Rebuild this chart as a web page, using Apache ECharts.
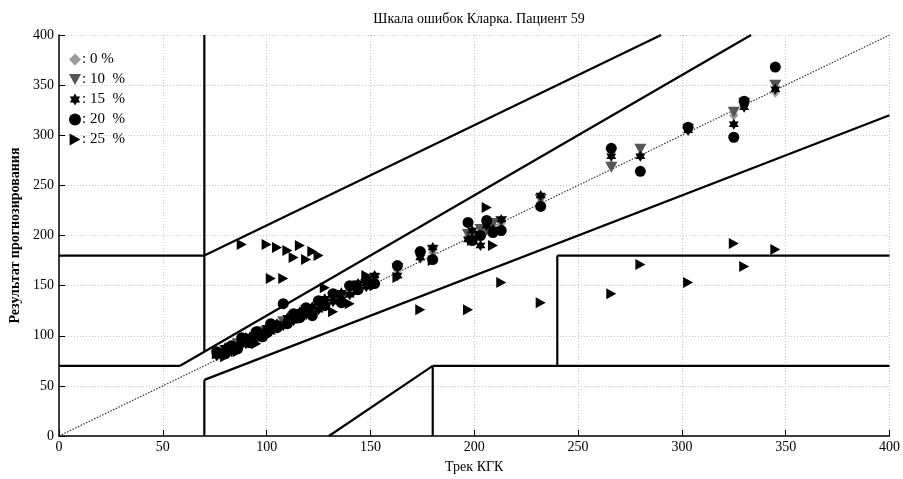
<!DOCTYPE html>
<html>
<head>
<meta charset="utf-8">
<script src="https://cdn.jsdelivr.net/npm/echarts@6/dist/echarts.min.js"></script>
<style>html,body{margin:0;padding:0;background:#fff}#c{width:903px;height:479px}</style>
</head>
<body>
<div id="c"></div>
<script>
// ---- data ----
const titleText = 'Шкала ошибок Кларка. Пациент 59';
const xName = 'Трек КГК';
const yName = 'Результат прогнозирования';
const seriesNames = ['0 %', '10  %', '15  %', '20  %', '25  %'];

const trace = [76, 80, 83, 86, 88, 90, 92, 95, 98, 100, 102, 105, 108, 110, 113, 116, 119, 122, 125, 128, 132, 136, 140, 144, 148, 152, 163, 174, 180, 197, 199, 203, 206, 209, 213, 232, 266, 280, 303, 325, 330, 345];
const pred0  = [80, 84, 87, 90, 92, 94, 96, 99, 102, 104, 106, 109, 112, 114, 117, 120, 123, 126, 129, 132, 136, 140, 144, 148, 152, 155, 165, 177, 183, 199, 201, 204, 207, 210, 212, 233, 270, 280, 305, 320, 330, 343];
const pred10 = [82, 85, 86, 92, 90, 96, 95, 100, 104, 103, 108, 110, 114, 113, 119, 121, 125, 124, 131, 133, 138, 139, 146, 150, 151, 157, 167, 179, 185, 201, 198, 206, 205, 212, 214, 236, 268, 286, 306, 323, 332, 350];
const pred15 = [80, 88, 84, 90, 94, 92, 99, 97, 101, 108, 104, 112, 110, 118, 115, 124, 121, 129, 126, 137, 134, 143, 141, 152, 149, 160, 160, 178, 188, 196, 205, 190, 210, 206, 216, 240, 279, 279, 305, 311, 328, 346];
const pred20 = [84, 82, 90, 87, 98, 95, 93, 104, 99, 103, 112, 108, 132, 112, 122, 118, 128, 120, 135, 130, 142, 133, 150, 146, 156, 152, 170, 184, 176, 213, 195, 200, 215, 203, 205, 229, 287, 264, 308, 298, 334, 368];
const pred25 = [82, 79, 88, 84, 191, 93, 98, 92, 104, 191, 157, 188, 157, 185, 178, 190, 176, 184, 180, 148, 124, 138, 132, 145, 160, 150, 158, 126, 175, 126, 195, 200, 228, 190, 153, 133, 142, 171, 153, 192, 169, 186];

const xTicks = [0, 50, 100, 150, 200, 250, 300, 350, 400];
const yTicks = [0, 50, 100, 150, 200, 250, 300, 350, 400];

// Clarke error grid zone boundaries (data units)
const diagonal = [[0, 0], [400, 400]];
const zoneSegments = [
  [[0, 70], [175 / 3, 70]],
  [[175 / 3, 70], [400 / 1.2, 400]],
  [[70, 84], [70, 400]],
  [[0, 180], [70, 180]],
  [[70, 180], [290, 400]],
  [[70, 0], [70, 56]],
  [[70, 56], [400, 320]],
  [[180, 0], [180, 70]],
  [[180, 70], [400, 70]],
  [[240, 70], [240, 180]],
  [[240, 180], [400, 180]],
  [[130, 0], [180, 70]]
];

// ---- chart ----
const serif = '"Liberation Serif", "DejaVu Serif", serif';
const preds = [pred0, pred10, pred15, pred20, pred25];
const symbols = [
  'diamond',
  'path://M0,0 L10,0 L5,9 Z',
  'path://M5,0 L9.33,7.5 L0.67,7.5 Z M5,10 L0.67,2.5 L9.33,2.5 Z',
  'circle',
  'path://M0,0 L9,5 L0,10 Z'
];
const colors = ['#9a9a9a', '#555555', '#000000', '#000000', '#000000'];
const sizes = [[9, 11], [12, 11], [10, 11], [11, 11], [10, 11]];

const series = [];
series.push({
  type: 'line', data: diagonal, symbol: 'none', silent: true,
  lineStyle: { color: '#333', width: 1.2, type: [1.5, 1.5] }, z: 1
});
zoneSegments.forEach(seg => series.push({
  type: 'line', data: seg, symbol: 'none', silent: true,
  lineStyle: { color: '#000', width: 2.2 }, z: 2
}));
preds.forEach((p, i) => series.push({
  name: seriesNames[i], type: 'scatter',
  data: trace.map((t, k) => [t, p[k]]),
  symbol: symbols[i], symbolSize: sizes[i],
  itemStyle: { color: colors[i], opacity: 1 }, z: 3 + i
}));

const axisCommon = {
  type: 'value', min: 0, max: 400, interval: 50,
  axisLine: { show: true, lineStyle: { color: '#000', width: 1.5 } },
  axisTick: { show: true, inside: true, length: 6, lineStyle: { color: '#000', width: 1 } },
  splitLine: { show: true, lineStyle: { color: '#c8c8c8', width: 1, type: [1, 2] } },
  axisLabel: { color: '#000', fontFamily: serif, fontSize: 14 },
  nameTextStyle: { color: '#000', fontFamily: serif, fontSize: 14 }
};

const chart = echarts.init(document.getElementById('c'), null, { renderer: 'canvas' });
chart.setOption({
  animation: false,
  backgroundColor: '#fff',
  title: {
    text: titleText, left: 474, top: 7, textAlign: 'center',
    textStyle: { fontFamily: serif, fontSize: 14, fontWeight: 'normal', color: '#000' }
  },
  legend: {
    orient: 'vertical', left: 64, top: 47, itemGap: 5, itemWidth: 12, itemHeight: 12,
    data: seriesNames.map((n, i) => ({ name: n, icon: symbols[i] })),
    formatter: n => ': ' + n,
    textStyle: { fontFamily: serif, fontSize: 15, color: '#000', padding: [0, 0, 0, -4] },
    selectedMode: false
  },
  grid: { left: 58, right: 13, top: 35, bottom: 38, containLabel: false },
  xAxis: Object.assign({}, axisCommon, {
    name: xName, nameLocation: 'middle', nameGap: 24,
    axisLabel: Object.assign({}, axisCommon.axisLabel, {
      margin: 4, customValues: xTicks
    })
  }),
  yAxis: Object.assign({}, axisCommon, {
    name: yName, nameLocation: 'middle', nameGap: 37,
    nameTextStyle: { color: '#000', fontFamily: serif, fontSize: 14, fontWeight: 'bold' },
    axisLabel: Object.assign({}, axisCommon.axisLabel, { margin: 5, customValues: yTicks })
  }),
  series: series
});
</script>
</body>
</html>
